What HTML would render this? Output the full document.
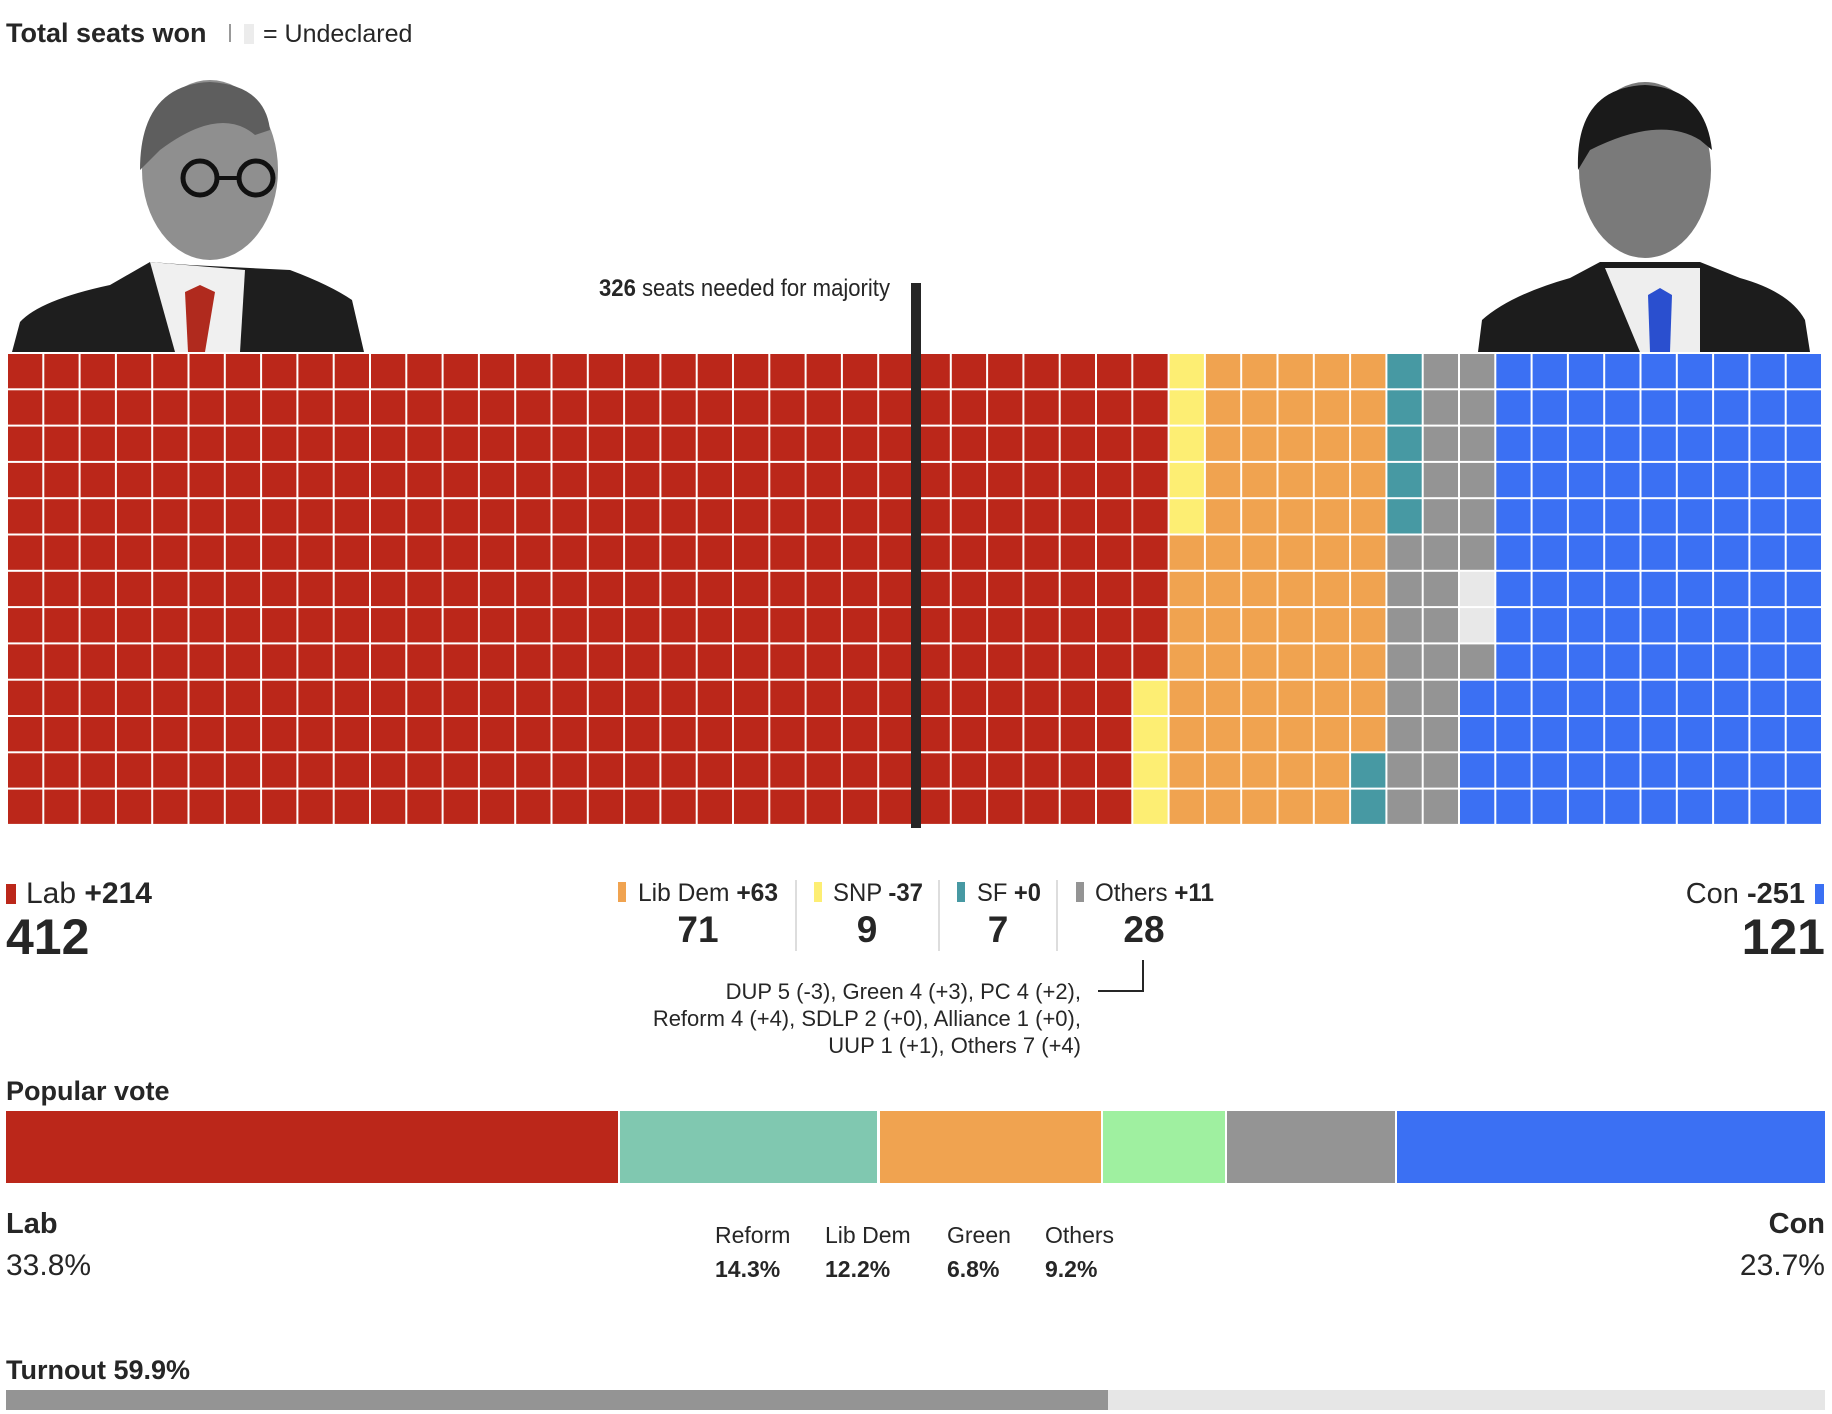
<!DOCTYPE html>
<html><head><meta charset="utf-8"><style>
html,body{margin:0;padding:0;background:#fff;width:1832px;height:1414px;overflow:hidden}
svg{display:block}
text{font-family:"Liberation Sans",sans-serif;fill:#262626}
</style></head><body>
<svg id="s" width="1832" height="1414" viewBox="0 0 1832 1414" xmlns="http://www.w3.org/2000/svg">
<text x="6" y="42" font-size="27" font-weight="bold">Total seats won</text>
<rect x="229" y="24" width="2" height="18" fill="#999"/>
<rect x="244" y="24" width="10" height="20" fill="#ececec"/>
<text x="263" y="42" font-size="25">= Undeclared</text>

<!-- Starmer -->
<g>
<path d="M12 352 L20 322 Q40 300 110 285 L150 262 L190 265 L250 268 L290 270 Q330 285 352 300 L364 352 Z" fill="#1e1e1e"/>
<path d="M150 262 L175 352 L240 352 L245 270 Z" fill="#f0f0f0"/>
<path d="M185 292 L200 285 L215 292 L205 352 L188 352 Z" fill="#b02a1e"/>
<ellipse cx="210" cy="170" rx="68" ry="90" fill="#8f8f8f"/>
<path d="M140 170 Q140 85 210 82 Q265 85 270 130 L255 135 Q220 105 160 150 Z" fill="#5e5e5e"/>
<circle cx="200" cy="178" r="17" fill="none" stroke="#111" stroke-width="5"/>
<circle cx="256" cy="178" r="17" fill="none" stroke="#111" stroke-width="5"/>
<line x1="217" y1="178" x2="239" y2="178" stroke="#111" stroke-width="4"/>
</g>
<!-- Sunak -->
<g>
<path d="M1478 352 L1482 320 Q1510 295 1570 278 L1600 262 L1700 262 L1740 278 Q1790 292 1805 320 L1810 352 Z" fill="#1c1c1c"/>
<path d="M1605 268 L1640 352 L1700 352 L1700 268 Z" fill="#eee"/>
<path d="M1648 295 L1660 288 L1672 295 L1670 352 L1650 352 Z" fill="#2a4fcf"/>
<ellipse cx="1645" cy="170" rx="66" ry="88" fill="#7a7a7a"/>
<path d="M1578 170 Q1575 88 1645 85 Q1705 88 1712 150 L1700 140 Q1660 115 1590 150 Z" fill="#1a1a1a"/>
</g>

<g id="grid"></g>

<rect x="911" y="283" width="10" height="545" fill="#262626"/>
<text x="599" y="296" font-size="24" textLength="291" lengthAdjust="spacingAndGlyphs"><tspan font-weight="bold">326</tspan> seats needed for majority</text>

<!-- Legend -->
<rect x="6" y="884" width="10" height="20" fill="#bb271a"/>
<text x="26" y="903" font-size="30">Lab <tspan font-weight="bold">+214</tspan></text>
<text x="6" y="954" font-size="50" font-weight="bold">412</text>

<rect x="618" y="882" width="8" height="20" fill="#f0a350"/>
<text x="638" y="901" font-size="25" textLength="140" lengthAdjust="spacingAndGlyphs">Lib Dem <tspan font-weight="bold">+63</tspan></text>
<text x="698" y="942" font-size="37" font-weight="bold" text-anchor="middle">71</text>
<rect x="795" y="880" width="2" height="71" fill="#ddd"/>
<rect x="814" y="882" width="8" height="20" fill="#fdee73"/>
<text x="833" y="901" font-size="25" textLength="90" lengthAdjust="spacingAndGlyphs">SNP <tspan font-weight="bold">-37</tspan></text>
<text x="867" y="942" font-size="37" font-weight="bold" text-anchor="middle">9</text>
<rect x="938" y="880" width="2" height="71" fill="#ddd"/>
<rect x="957" y="882" width="8" height="20" fill="#4799a3"/>
<text x="977" y="901" font-size="25" textLength="64" lengthAdjust="spacingAndGlyphs">SF <tspan font-weight="bold">+0</tspan></text>
<text x="998" y="942" font-size="37" font-weight="bold" text-anchor="middle">7</text>
<rect x="1056" y="880" width="2" height="71" fill="#ddd"/>
<rect x="1076" y="882" width="8" height="20" fill="#949494"/>
<text x="1095" y="901" font-size="25" textLength="119" lengthAdjust="spacingAndGlyphs">Others <tspan font-weight="bold">+11</tspan></text>
<text x="1144" y="942" font-size="37" font-weight="bold" text-anchor="middle">28</text>
<path d="M1143 960 V991 H1098" fill="none" stroke="#262626" stroke-width="2"/>
<g font-size="22" text-anchor="end" fill="#333">
<text x="1081" y="999">DUP 5 (-3), Green 4 (+3), PC 4 (+2),</text>
<text x="1081" y="1026">Reform 4 (+4), SDLP 2 (+0), Alliance 1 (+0),</text>
<text x="1081" y="1053">UUP 1 (+1), Others 7 (+4)</text>
</g>

<rect x="1815" y="884" width="9" height="20" fill="#3b70f3"/>
<text x="1805" y="903" font-size="29" text-anchor="end">Con <tspan font-weight="bold">-251</tspan></text>
<text x="1825" y="954" font-size="50" font-weight="bold" text-anchor="end">121</text>

<!-- Popular vote -->
<text x="6" y="1100" font-size="27" font-weight="bold">Popular vote</text>
<rect x="6" y="1111" width="612" height="72" fill="#bb271a"/>
<rect x="620" y="1111" width="257" height="72" fill="#80c8b0"/>
<rect x="880" y="1111" width="221" height="72" fill="#f0a350"/>
<rect x="1103" y="1111" width="122" height="72" fill="#9ff0a0"/>
<rect x="1227" y="1111" width="168" height="72" fill="#949494"/>
<rect x="1397" y="1111" width="428" height="72" fill="#3b70f3"/>
<text x="6" y="1233" font-size="29" font-weight="bold">Lab</text>
<text x="6" y="1275" font-size="30" fill="#444">33.8%</text>
<text x="1825" y="1233" font-size="29" font-weight="bold" text-anchor="end">Con</text>
<text x="1825" y="1275" font-size="30" text-anchor="end" fill="#444">23.7%</text>
<g font-size="23">
<text x="715" y="1243">Reform</text><text x="715" y="1277" font-weight="bold">14.3%</text>
<text x="825" y="1243">Lib Dem</text><text x="825" y="1277" font-weight="bold">12.2%</text>
<text x="947" y="1243">Green</text><text x="947" y="1277" font-weight="bold">6.8%</text>
<text x="1045" y="1243">Others</text><text x="1045" y="1277" font-weight="bold">9.2%</text>
</g>

<text x="6" y="1379" font-size="27" font-weight="bold">Turnout 59.9%</text>
<rect x="6" y="1390" width="1102" height="20" fill="#949494"/>
<rect x="1108" y="1390" width="717" height="20" fill="#e6e6e6"/>
</svg>
<script>
var g=document.getElementById('grid'),R='#bb271a',Y='#fdee73',O='#f0a350',T='#4799a3',G='#949494',B='#3b70f3',U='#e8e8e8';
function col(c,r){
 if(c<31)return R;
 if(c==31)return r<9?R:Y;
 if(c==32)return r<5?Y:O;
 if(c<37)return O;
 if(c==37)return r<11?O:T;
 if(c==38)return r<5?T:G;
 if(c==39)return G;
 if(c==40)return r<6?G:(r<8?U:(r==8?G:B));
 return B;
}
var h='',p=36.3;
for(var c=0;c<50;c++)for(var r=0;r<13;r++){
 h+='<rect x="'+(8+c*p).toFixed(1)+'" y="'+(354+r*p).toFixed(1)+'" width="'+(p-2).toFixed(1)+'" height="'+(p-2).toFixed(1)+'" fill="'+col(c,r)+'"/>';
}
g.innerHTML=h;
</script>
</body></html>
